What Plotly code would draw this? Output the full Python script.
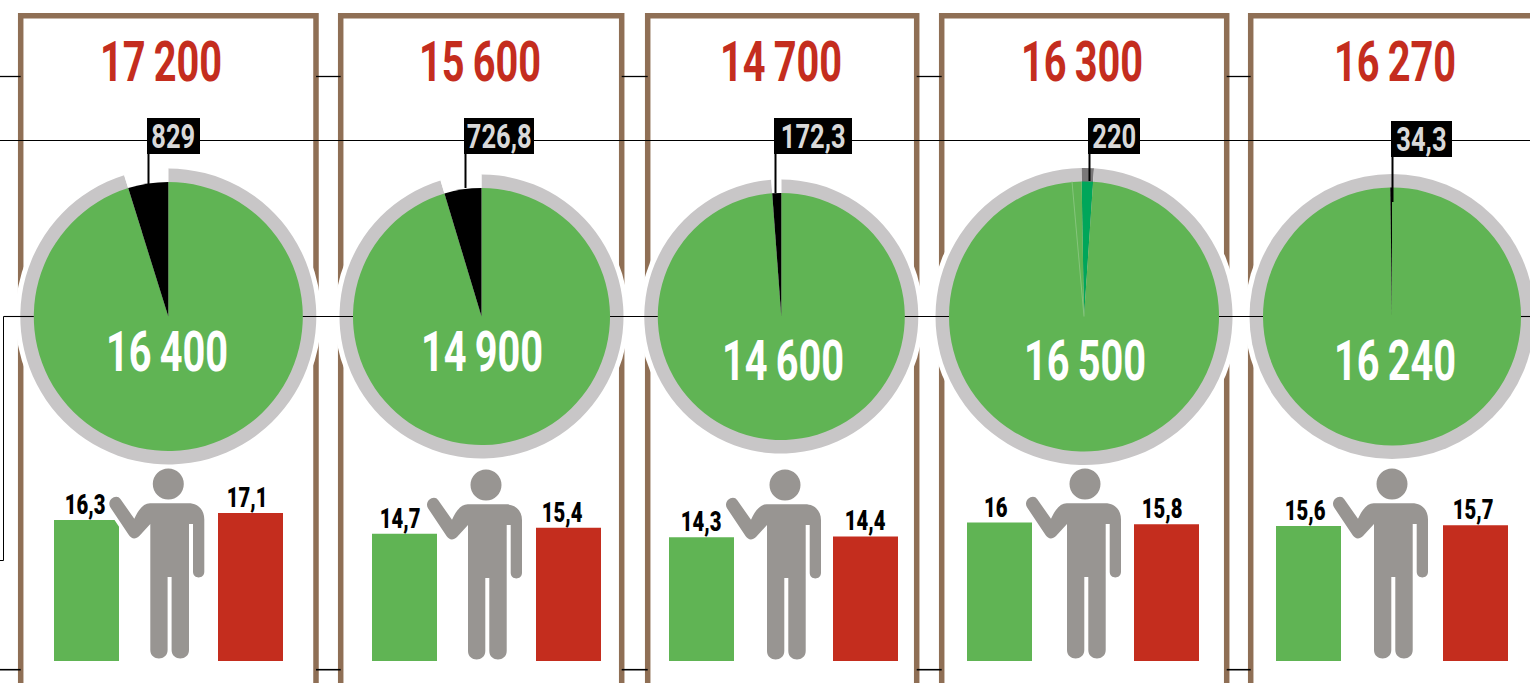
import plotly.graph_objects as go

# ---- data ----
top_values = [17200, 15600, 14700, 16300, 16270]
center_values = [16400, 14900, 14600, 16500, 16240]
slice_values = [829, 726.8, 172.3, 220, 34.3]
slice_labels = ["829", "726,8", "172,3", "220", "34,3"]
green_values = [16.3, 14.7, 14.3, 16, 15.6]
red_values = [17.1, 15.4, 14.4, 15.8, 15.7]
green_labels = ["16,3", "14,7", "14,3", "16", "15,6"]
red_labels = ["17,1", "15,4", "14,4", "15,8", "15,7"]
top_labels = ["17\u2009200", "15\u2009600", "14\u2009700", "16\u2009300", "16\u2009270"]
center_labels = ["16\u2009400", "14\u2009900", "14\u2009600", "16\u2009500", "16\u2009240"]

# ---- layout geometry (pixels) ----
W, H = 1530, 683
CX = [168.3, 481.5, 781.3, 1084, 1392]
CY = 316.5
R_IN = [134.5, 128.5, 123.5, 135, 129]
RING = 13.5
FRAME_L = [20.7, 340.7, 647.7, 941.7, 1250.7]
FRAME_R = [316, 621.7, 916.7, 1226.7, 1560]
FRAME_T = 15.7
PERSON_X = [168.3, 486, 785, 1085, 1392]
PERSON_Y = [0, 1, 1, 0, 0]
GREEN_X = [86.5, 404.5, 701.5, 999.5, 1308.5]
RED_X = [250.5, 568.5, 865.5, 1166.5, 1475.5]
GREEN_TX = [85, 400, 701, 995, 1305]
RED_TX = [247, 562, 865, 1162, 1473]
BAR_W = 65
BASE_Y = 661
PX_PER_UNIT = 8.65
TITLE_X = [161, 480, 781, 1082, 1395]
CENTER_X = [167, 482, 783, 1085, 1395]
CENTER_Y = [352, 352, 361, 361, 361]
BOX = [(147, 200, 118, 154), (464, 534, 118, 154), (774, 852, 118, 154),
       (1088, 1140, 118, 154), (1391, 1452, 121, 157)]
LEADER_END = [184, 188, 193, 181, 202]

GREEN = "#60B454"
RED = "#C42D1E"
BROWN = "#8F6F55"
RING_C = "#C8C6C7"
PERSON_C = "#989592"
FONT = "Roboto"

fig = go.Figure()


def dom(cx, r):
    return dict(x=[(cx - r) / W, min((cx + r) / W, 1)],
                y=[1 - (CY + r) / H, 1 - (CY - r) / H])


shapes = []


def sh(**k):
    k.setdefault("xref", "x")
    k.setdefault("yref", "y2")
    shapes.append(k)


def hline(y, x0, x1, w=1.1, layer="below"):
    sh(type="line", x0=x0, x1=x1, y0=y, y1=y, line=dict(color="black", width=w), layer=layer)


# frames
for l, r in zip(FRAME_L, FRAME_R):
    sh(type="rect", x0=l, x1=r, y0=FRAME_T, y1=H + 30, line=dict(color=BROWN, width=5.5),
       fillcolor="rgba(0,0,0,0)", layer="below")

# lines between frames
gaps = [(0, FRAME_L[0])] + [(FRAME_R[i], FRAME_L[i + 1]) for i in range(4)]
for a, b in gaps:
    hline(76.5, a, b, 1.3)
    hline(669.7, a, b, 1.6)
hline(140.5, 0, W, 1.1)

# line through the circles, over the grey ring
ends = [3.5] + [v for c, r in zip(CX, R_IN) for v in (c - r, c + r)] + [W]
for i in range(0, len(ends), 2):
    hline(CY, ends[i], ends[i + 1], 1.1, "above")
sh(type="path", path=f"M 3.5 {CY} L 3.5 560.5 L 0 560.5", line=dict(color="black", width=1), layer="above")

# panel 5 runs past the page edge, so its ring is drawn as circles
c5, r5 = CX[4], R_IN[4]
sh(type="circle", x0=c5 - r5 - RING - 5, x1=c5 + r5 + RING + 5, y0=CY - r5 - RING - 5, y1=CY + r5 + RING + 5,
   fillcolor="white", line=dict(width=0), layer="below")
sh(type="circle", x0=c5 - r5 - RING, x1=c5 + r5 + RING, y0=CY - r5 - RING, y1=CY + r5 + RING,
   fillcolor=RING_C, line=dict(width=0), layer="below")

# bars, on the value axis
fig.add_trace(go.Bar(x=GREEN_X, y=green_values, width=BAR_W, marker=dict(color=GREEN, line=dict(width=0)),
                     hoverinfo="skip"))
fig.add_trace(go.Bar(x=RED_X, y=red_values, width=BAR_W, marker=dict(color=RED, line=dict(width=0)),
                     hoverinfo="skip"))

# pies
for i in range(5):
    cx, r = CX[i], R_IN[i]
    rest = top_values[i] - slice_values[i]
    cw = i == 3
    rot = -1 if cw else 0
    vals = [slice_values[i], rest] if cw else [rest, slice_values[i]]
    common = dict(values=vals, sort=False, direction="clockwise", rotation=rot,
                  textinfo="none", hoverinfo="skip", showlegend=False)

    def cols(special, base):
        return [special, base] if cw else [base, special]

    if i < 4:
        fig.add_trace(go.Pie(values=[1], domain=dom(cx, r + RING + 5), textinfo="none", hoverinfo="skip",
                             showlegend=False, marker=dict(colors=["white"], line=dict(width=0))))
        ring_slice = "#7A7879" if cw else "white"
        fig.add_trace(go.Pie(domain=dom(cx, r + RING), marker=dict(colors=cols(ring_slice, RING_C), line=dict(width=0)),
                             **common))
    fig.add_trace(go.Pie(domain=dom(cx, r),
                         marker=dict(colors=cols("#00A65A" if cw else "black", GREEN), line=dict(width=0)), **common))

# faint seam in the fourth circle
sh(type="line", x0=CX[3] - 12, x1=CX[3], y0=CY - R_IN[3], y1=CY, line=dict(color="#86C57C", width=1), layer="above")

# person pictogram
BODY = [("M", 450, 160), ("L", 565, 160), ("C", 595, 160, 613, 180, 613, 208), ("L", 613, 365),
        ("C", 613, 388, 579, 388, 579, 365), ("L", 579, 222), ("L", 567, 222), ("L", 567, 600),
        ("C", 567, 634, 515, 634, 515, 600), ("L", 515, 381), ("L", 503, 381), ("L", 503, 600),
        ("C", 503, 634, 451, 634, 451, 600), ("L", 451, 222), ("L", 418, 258),
        ("C", 408, 268, 395, 268, 387, 256), ("L", 331, 172), ("C", 318, 150, 350, 128, 362, 148),
        ("L", 403, 206), ("C", 415, 180, 430, 160, 450, 160)]


def person_path(px, dy):
    out = []
    for seg in BODY:
        pts = seg[1:]
        conv = []
        for j in range(0, len(pts), 2):
            conv.append(f"{px + (pts[j] - 505) / 3:.1f} {450 + dy + pts[j + 1] / 3:.1f}")
        out.append(seg[0] + " " + " ".join(conv))
    return " ".join(out) + " Z"


for px, dy in zip(PERSON_X, PERSON_Y):
    sh(type="path", path=person_path(px, dy), fillcolor="white", line=dict(color="white", width=7), layer="above")
for px, dy in zip(PERSON_X, PERSON_Y):
    sh(type="path", path=person_path(px, dy), fillcolor=PERSON_C, line=dict(width=0), layer="above")
    hy = 450 + dy + 34
    sh(type="circle", x0=px - 15.5, x1=px + 15.5, y0=hy - 15.5, y1=hy + 15.5, fillcolor=PERSON_C,
       line=dict(width=0), layer="above")

# leader lines and label boxes
ann = []
for i, (x0, x1, y0, y1) in enumerate(BOX):
    lx = x0 + 1.5
    sh(type="line", x0=lx, x1=lx, y0=y1, y1=LEADER_END[i], line=dict(color="black", width=2), layer="above")
    sh(type="rect", x0=x0, x1=x1, y0=y0, y1=y1, fillcolor="black", line=dict(width=0), layer="above")
    ann.append(dict(x=(x0 + x1) / 2, y=(y0 + y1) / 2, xref="x", yref="y2", text=slice_labels[i], showarrow=False,
                    font=dict(family=FONT, size=34, color="#D9D9D9", weight="bold")))

for i in range(5):
    ann.append(dict(x=TITLE_X[i], y=62, xref="x", yref="y2", text=top_labels[i], showarrow=False,
                    font=dict(family=FONT, size=56, color=RED, weight="bold")))
    ann.append(dict(x=CENTER_X[i], y=CENTER_Y[i], xref="x", yref="y2", text=center_labels[i], showarrow=False,
                    font=dict(family=FONT, size=56, color="white", weight="bold")))
    for tx, v, t in ((GREEN_TX[i], green_values[i], green_labels[i]), (RED_TX[i], red_values[i], red_labels[i])):
        ann.append(dict(x=tx, y=v, xref="x", yref="y", text=t, showarrow=False, yanchor="middle", yshift=15,
                        font=dict(family=FONT, size=27, color="black", weight=900)))

fig.update_layout(
    width=W, height=H, margin=dict(l=0, r=0, t=0, b=0), paper_bgcolor="white", plot_bgcolor="rgba(0,0,0,0)",
    showlegend=False, barmode="overlay", shapes=shapes, annotations=ann,
    xaxis=dict(range=[0, W], visible=False, fixedrange=True),
    yaxis=dict(range=[(BASE_Y - H) / PX_PER_UNIT, BASE_Y / PX_PER_UNIT], visible=False, fixedrange=True),
    yaxis2=dict(range=[H, 0], visible=False, overlaying="y", fixedrange=True, anchor="x"),
)
# an invisible trace keeps the pixel axis alive for shapes and annotations
fig.add_trace(go.Scatter(x=[0], y=[0], yaxis="y2", mode="markers", marker=dict(opacity=0), hoverinfo="skip"))

# the reference uses a condensed face: squeeze the real text horizontally about its centre
squeeze = """
document.body.style.margin='0';document.body.style.overflow='hidden';
document.querySelectorAll('text.annotation-text').forEach(function(el){
  var b=el.getBBox(), c=b.x+b.width/2, t=el.getAttribute('transform')||'';
  var s=parseFloat(getComputedStyle(el).fontSize)>40?0.71:0.75;
  el.setAttribute('transform', t+' translate('+c+',0) scale('+s+',1) translate('+(-c)+',0)');
});
"""
fig.write_html("out.html", config=dict(displayModeBar=False), post_script=squeeze)
